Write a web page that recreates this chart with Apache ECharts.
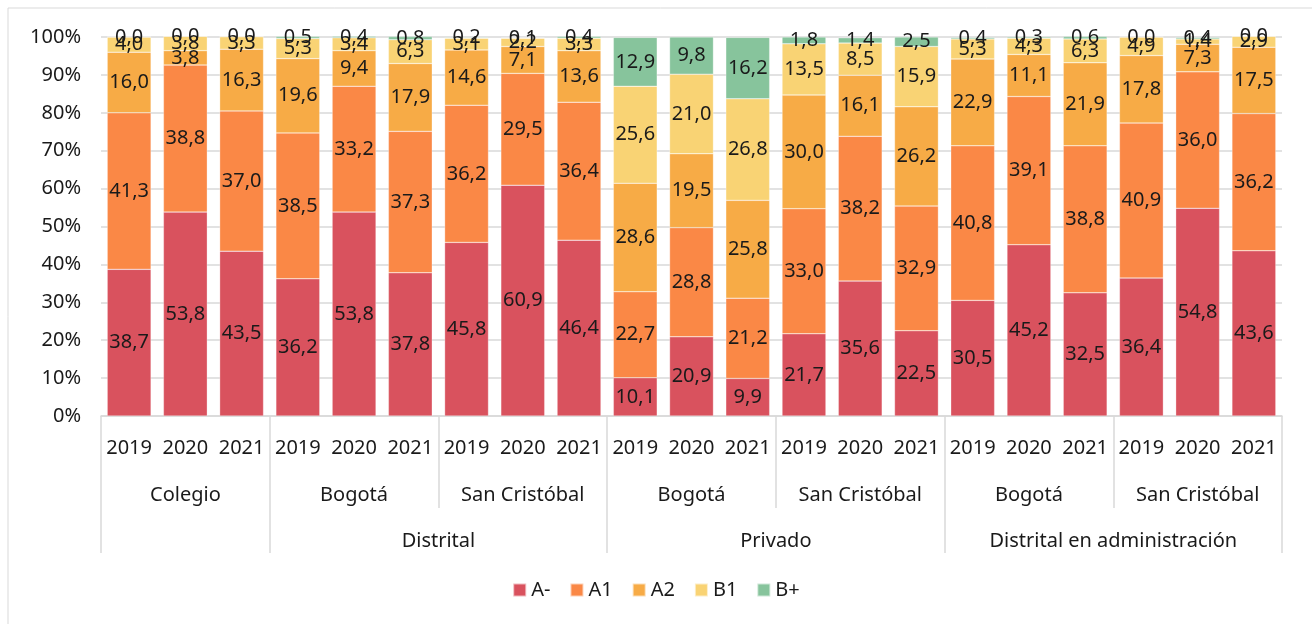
<!DOCTYPE html>
<html>
<head>
<meta charset="utf-8">
<script src="https://cdn.jsdelivr.net/npm/echarts@6/dist/echarts.min.js"></script>
<style>
  html, body { margin: 0; padding: 0; background: #fff; }
  #chart { width: 1312px; height: 624px; }
</style>
</head>
<body>
<div id="chart"></div>
<script>
// year labels, one per bar
const years = ['2019', '2020', '2021', '2019', '2020', '2021', '2019', '2020', '2021',
  '2019', '2020', '2021', '2019', '2020', '2021', '2019', '2020', '2021', '2019', '2020', '2021']
// second level: each group has 3 bars
const places = ['Colegio', 'Bogotá', 'San Cristóbal', 'Bogotá', 'San Cristóbal', 'Bogotá', 'San Cristóbal']
// third level: name and how many place-groups it spans
const sectors = ['', 'Distrital', 'Privado', 'Distrital en administración']
const sectorSpans = [1, 2, 2, 2]

const seriesNames = ['A-', 'A1', 'A2', 'B1', 'B+']
const aMinus = [38.7, 53.8, 43.5, 36.2, 53.8, 37.8, 45.8, 60.9, 46.4, 10.1, 20.9, 9.9, 21.7, 35.6, 22.5, 30.5, 45.2, 32.5, 36.4, 54.8, 43.6]
const a1 = [41.3, 38.8, 37.0, 38.5, 33.2, 37.3, 36.2, 29.5, 36.4, 22.7, 28.8, 21.2, 33.0, 38.2, 32.9, 40.8, 39.1, 38.8, 40.9, 36.0, 36.2]
const a2 = [16.0, 3.8, 16.3, 19.6, 9.4, 17.9, 14.6, 7.1, 13.6, 28.6, 19.5, 25.8, 30.0, 16.1, 26.2, 22.9, 11.1, 21.9, 17.8, 7.3, 17.5]
const b1 = [4.0, 3.8, 3.3, 5.3, 3.4, 6.3, 3.1, 2.2, 3.3, 25.6, 21.0, 26.8, 13.5, 8.5, 15.9, 5.3, 4.3, 6.3, 4.9, 1.4, 2.9]
const bPlus = [0.0, 0.0, 0.0, 0.5, 0.4, 0.8, 0.2, 0.1, 0.4, 12.9, 9.8, 16.2, 1.8, 1.4, 2.5, 0.4, 0.3, 0.6, 0.0, 0.4, 0.0]
const colors = ['#d9525e', '#fa8846', '#f7ab46', '#f9d374', '#87c49c']

const seriesData = [aMinus, a1, a2, b1, bPlus]
const n = years.length
const perPlace = 3
const font = 'Noto Sans'
const lineColor = '#d9d9d9'
const textColor = '#1a1a1a'

// positions (in bar units) of place labels and separators
const placeCenters = places.map((p, i) => i * perPlace + perPlace / 2)
const placeBounds = places.map((p, i) => i * perPlace).concat([n])
const sectorCenters = []
const sectorBounds = [0]
let start = 0
sectorSpans.forEach(span => {
  const w = span * perPlace
  sectorCenters.push(start + w / 2)
  start += w
  sectorBounds.push(start)
})

const chart = echarts.init(document.getElementById('chart'))

chart.setOption({
  animation: false,
  color: colors,
  textStyle: { fontFamily: font },
  grid: { left: 101, right: 30, top: 37, bottom: 208, containLabel: false },
  legend: {
    data: seriesNames,
    bottom: 19,
    left: 'center',
    icon: 'rect',
    itemWidth: 13,
    itemHeight: 13,
    itemGap: 19,
    textStyle: { fontSize: 20, color: textColor, fontFamily: font }
  },
  graphic: [{
    type: 'rect',
    shape: { x: 8, y: 8, width: 1330, height: 650 },
    style: { fill: 'none', stroke: lineColor, lineWidth: 1 },
    silent: true
  }],
  xAxis: [
    {
      type: 'category',
      data: years,
      axisLine: { lineStyle: { color: lineColor, width: 1.5 } },
      axisTick: { show: false },
      axisLabel: { fontSize: 20, color: textColor, margin: 22, interval: 0 }
    },
    {
      type: 'value',
      min: 0,
      max: n,
      position: 'bottom',
      axisLine: { show: false },
      splitLine: { show: false },
      axisTick: {
        show: true,
        customValues: placeBounds,
        length: 92,
        lineStyle: { color: lineColor, width: 1.5 }
      },
      axisLabel: {
        customValues: placeCenters,
        fontSize: 20,
        color: textColor,
        margin: 69,
        formatter: v => places[placeCenters.indexOf(v)] || ''
      }
    },
    {
      type: 'value',
      min: 0,
      max: n,
      position: 'bottom',
      axisLine: { show: false },
      splitLine: { show: false },
      axisTick: {
        show: true,
        customValues: sectorBounds,
        length: 137,
        lineStyle: { color: lineColor, width: 1.5 }
      },
      axisLabel: {
        customValues: sectorCenters,
        fontSize: 20,
        color: textColor,
        margin: 115,
        formatter: v => sectors[sectorCenters.indexOf(v)] || ''
      }
    }
  ],
  yAxis: {
    type: 'value',
    min: 0,
    max: 100,
    interval: 10,
    axisLine: { show: false },
    axisTick: { show: false },
    axisLabel: { formatter: '{value}%', fontSize: 20, color: textColor, margin: 20 },
    splitLine: { lineStyle: { color: lineColor, width: 1.5 } }
  },
  series: seriesNames.map((name, i) => ({
    name: name,
    type: 'bar',
    stack: 'total',
    barCategoryGap: '22%',
    clip: false,
    data: seriesData[i],
    itemStyle: { borderColor: 'rgba(255,255,255,0.6)', borderWidth: 0.5 },
    label: {
      show: true,
      position: 'inside',
      fontSize: 20,
      color: textColor,
      fontFamily: font,
      formatter: p => p.value.toFixed(1).replace('.', ',')
    }
  }))
})
</script>
</body>
</html>
